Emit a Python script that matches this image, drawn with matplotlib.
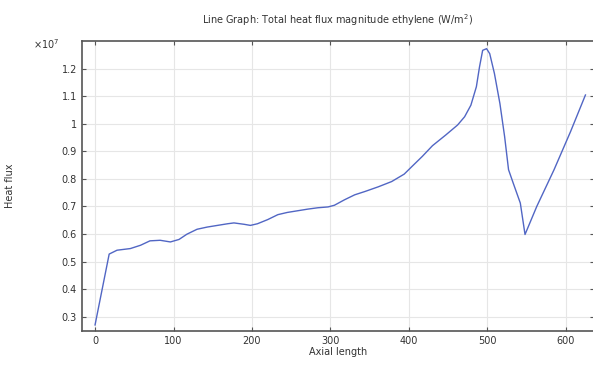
import matplotlib.pyplot as plt
from matplotlib.ticker import FuncFormatter

# axial length and total heat flux (in units of 1e7 W/m^2)
axial = [0, 18, 28, 45, 58, 70, 83, 96, 107, 117, 130, 143, 156, 169, 177, 190,
         198, 207, 220, 233, 245, 258, 271, 284, 297, 305, 318, 331, 344, 361,
         378, 394, 404, 417, 430, 447, 462, 471, 479, 486, 490, 494, 499, 503,
         509, 516, 522, 527, 533, 542, 548, 563, 585, 606, 625]
flux = [0.27, 0.527, 0.541, 0.547, 0.559, 0.575, 0.577, 0.571, 0.580, 0.599,
        0.617, 0.625, 0.631, 0.637, 0.640, 0.635, 0.631, 0.637, 0.652, 0.670,
        0.678, 0.684, 0.690, 0.695, 0.698, 0.704, 0.724, 0.742, 0.754, 0.771,
        0.790, 0.817, 0.845, 0.881, 0.920, 0.959, 0.995, 1.025, 1.067, 1.134,
        1.206, 1.266, 1.272, 1.254, 1.182, 1.073, 0.953, 0.833, 0.784, 0.712,
        0.598, 0.700, 0.833, 0.971, 1.104]

xticks = [0, 100, 200, 300, 400, 500, 600]
yticks = [0.3, 0.4, 0.5, 0.6, 0.7, 0.8, 0.9, 1.0, 1.1, 1.2]

fig = plt.figure(figsize=(5.93, 3.69), dpi=100)
# right spine sits just past the picture edge, as in the screenshot
ax = fig.add_axes([0.1378, 0.103, 0.8640, 0.786])

ax.plot(axial, flux, color='#5166c4', lw=1.0)

ax.set_xlim(-17, 636)
ax.set_ylim(0.248, 1.30)
ax.set_xticks(xticks)
ax.set_yticks(yticks)
ax.yaxis.set_major_formatter(FuncFormatter(lambda v, p: '%g' % round(v, 2)))
ax.grid(True, color='#e6e6e6', lw=0.8)
ax.tick_params(direction='in', length=3, labelsize=7, colors='#555555',
               labelcolor='#333333', top=True, right=True)
for s in ax.spines.values():
    s.set_color('#555555')
    s.set_linewidth(1.2)

ax.set_xlabel('Axial length', fontsize=7, color='#333333', labelpad=1)
ax.set_ylabel('Heat flux', fontsize=7, color='#333333')
ax.yaxis.set_label_coords(-0.131, 0.5)
ax.set_title('Line Graph: Total heat flux magnitude ethylene (W/m$^2$)',
             fontsize=7, color='#333333', pad=12)
fig.text(0.055, 0.868, r'$\times10^7$', fontsize=7, color='#333333', ha='left')

fig.savefig('out.png', dpi=100)
